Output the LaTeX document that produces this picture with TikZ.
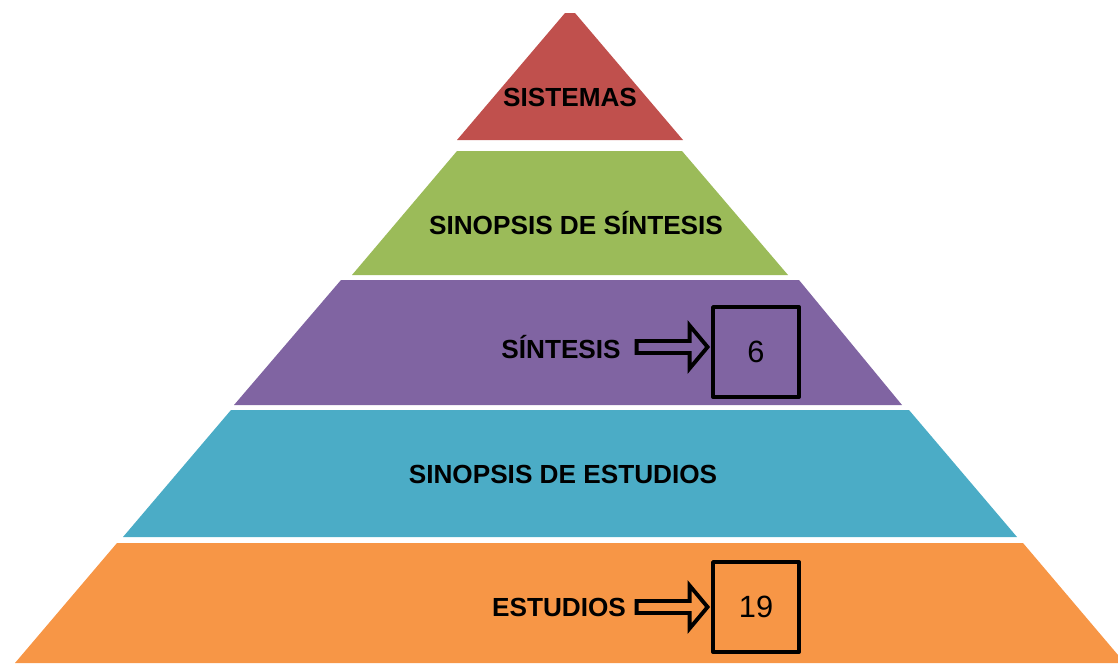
\documentclass[tikz,border=0pt]{standalone}
\usepackage{fontspec}
\setmainfont{Liberation Sans}
\definecolor{caparoja}{HTML}{C0504D}
\definecolor{capaverde}{HTML}{9BBB59}
\definecolor{capamorada}{HTML}{8064A2}
\definecolor{capaazul}{HTML}{4BACC6}
\definecolor{capanaranja}{HTML}{F79646}
\begin{document}
\begin{tikzpicture}[x=0.02cm,y=-0.02cm,
    nivel/.style={font=\bfseries\fontsize{14.9}{17}\selectfont, anchor=base, inner sep=0pt},
    cuadro/.style={draw=black, line width=2.2pt, line join=round, minimum width=1.72cm, minimum height=1.8cm, inner sep=0pt, font=\fontsize{17.5}{20}\selectfont},
    flechabloque/.pic={\draw [black, line width=2.2pt, line join=miter] (0,0) -- (-18,-21.5) -- (-18,-6) -- (-71,-6) -- (-71,6) -- (-18,6) -- (-18,21.5) -- cycle;}]
    \useasboundingbox (0,0) rectangle (1118,663);
    \fill [caparoja] (565,13) -- (575,13) -- (683,140) -- (457,140) -- cycle;
    \fill [capaverde] (457,151) -- (682,151) -- (788,275) -- (352,275) -- cycle;
    \fill [capamorada] (341,280) -- (799,280) -- (902,405) -- (234,405) -- cycle;
    \fill [capaazul] (231,410) -- (909,410) -- (1017,537) -- (123,537) -- cycle;
    \fill [capanaranja] (117,543) -- (1023,543) -- (1118,655) -- (1118,663) -- (15,663) -- cycle;
    \node [nivel] (sistemas) at (570,106) {SISTEMAS};
    \node [nivel] (sinsintesis) at (576,234) {SINOPSIS DE SÍNTESIS};
    \node [nivel] (sintesis) at (561,358) {SÍNTESIS};
    \node [nivel] (sinestudios) at (563,483) {SINOPSIS DE ESTUDIOS};
    \node [nivel] (estudios) at (559,616) {ESTUDIOS};
    \node [cuadro] (num6) at (756,352) {6};
    \pic (flecha6) at ([xshift=-0.07cm,yshift=0.1cm]num6.west) {flechabloque};
    \node [cuadro] (num19) at (756,607) {19};
    \pic (flecha19) at ([xshift=-0.07cm]num19.west) {flechabloque};
\end{tikzpicture}
\end{document}
